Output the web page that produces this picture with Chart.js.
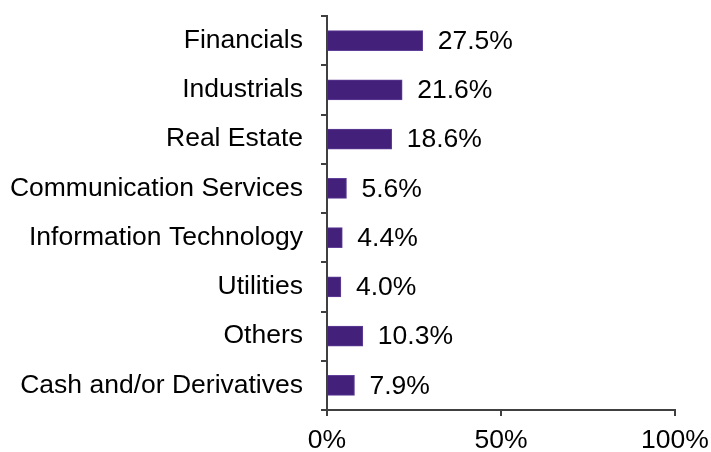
<!DOCTYPE html>
<html>
<head>
<meta charset="utf-8">
<script src="https://cdn.jsdelivr.net/npm/chart.js@4/dist/chart.umd.min.js"></script>
<style>
  html, body { margin: 0; padding: 0; background: #fff; }
  #wrap { width: 711px; height: 452px; }
</style>
</head>
<body>
<div id="wrap"><canvas id="c" width="711" height="452"></canvas></div>
<script>
const categories = ['Financials', 'Industrials', 'Real Estate', 'Communication Services',
  'Information Technology', 'Utilities', 'Others', 'Cash and/or Derivatives'];
const weights = [27.5, 21.6, 18.6, 5.6, 4.4, 4.0, 10.3, 7.9];
const xTicks = [0, 50, 100];

const FONT = "'Liberation Sans', Arial, sans-serif";
const AXIS = '#404040';

/* value labels right of each bar */
const valueLabels = {
  id: 'valueLabels',
  afterDatasetsDraw(chart) {
    const { ctx } = chart;
    const meta = chart.getDatasetMeta(0);
    ctx.save();
    ctx.font = `26.5px ${FONT}`;
    ctx.fillStyle = '#000';
    ctx.textBaseline = 'middle';
    ctx.textAlign = 'left';
    meta.data.forEach((bar, i) => {
      ctx.fillText(weights[i].toFixed(1) + '%', bar.x + 15, bar.y + 1);
    });
    ctx.restore();
  }
};

new Chart(document.getElementById('c'), {
  type: 'bar',
  data: {
    labels: categories,
    datasets: [{
      data: weights,
      backgroundColor: '#43217B',
      borderColor: '#5F3F97',
      borderWidth: 1,
      barThickness: 20
    }]
  },
  options: {
    indexAxis: 'y',
    responsive: false,
    animation: false,
    devicePixelRatio: 1,
    layout: { padding: { top: 16, right: 36, left: 0, bottom: 0 } },
    plugins: { legend: { display: false }, tooltip: { enabled: false } },
    scales: {
      x: {
        min: 0, max: 100,
        afterBuildTicks: s => { s.ticks = xTicks.map(v => ({ value: v })); },
        afterFit: s => { s.height = 42; s.paddingLeft = 0; s.paddingRight = 0; },
        ticks: { callback: v => v + '%', color: '#000', font: { family: FONT, size: 26.5 }, padding: 9, maxRotation: 0 },
        grid: { drawOnChartArea: false, drawTicks: true, tickLength: 6, color: AXIS, lineWidth: 2 },
        border: { display: true, color: AXIS, width: 2 }
      },
      y: {
        afterFit: s => { s.width = 327; s.paddingTop = 0; s.paddingBottom = 0; },
        ticks: { color: '#000', font: { family: FONT, size: 26.5 }, padding: 18 },
        grid: { drawOnChartArea: false, drawTicks: true, tickLength: 6, color: AXIS, lineWidth: 2, offset: true },
        border: { display: true, color: AXIS, width: 2 }
      }
    }
  },
  plugins: [valueLabels]
});
</script>
</body>
</html>
